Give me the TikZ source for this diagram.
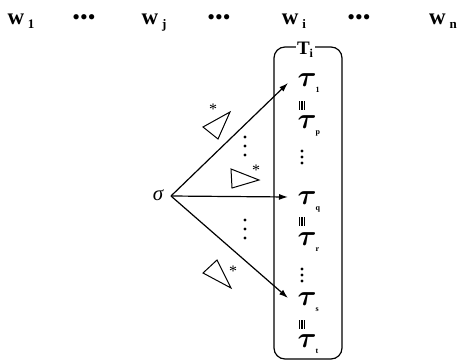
\RequirePackage{fix-cm}
\documentclass[tikz,border=0pt]{standalone}
\usepackage{bm}
\usepackage{fontspec}
\setmainfont{Liberation Serif}
\usetikzlibrary{arrows.meta}

\newcommand{\wlab}[1]{\fontsize{23}{23}\selectfont\bfseries w\,\raisebox{-4pt}{\fontsize{13}{13}\selectfont #1}}
\newcommand{\taulab}[1]{\fontsize{29}{29}\selectfont$\bm{\tau}$\kern-1pt\raisebox{-6pt}{\fontsize{8}{8}\selectfont\bfseries #1}}
\newcommand{\eqvlab}{\rule{1.1pt}{9pt}\kern1.5pt\rule{1.1pt}{9pt}\kern1.5pt\rule{1.1pt}{9pt}}

\tikzset{
  taubox/.style={anchor=west,inner sep=0,text height=12pt,text depth=3pt},
  mark3/.style={inner sep=0}
}

\begin{document}
\begin{tikzpicture}[x=1pt,y=-1pt,line width=1.2pt,>={Latex[length=9pt,width=6pt]}]
  \useasboundingbox (0,0) rectangle (457,361);
  % top row
  \node[anchor=base] (w1) at (21,25){\wlab{1}};
  \node[anchor=base] (d1) at (84,25){\fontsize{22}{22}\selectfont •••};
  \node[anchor=base] (wj) at (154,25){\wlab{j}};
  \node[anchor=base] (d2) at (219,25){\fontsize{22}{22}\selectfont •••};
  \node[anchor=base] (wi) at (294,25){\wlab{i}};
  \node[anchor=base] (d3) at (359,25){\fontsize{22}{22}\selectfont •••};
  \node[anchor=base] (wn) at (443,25){\wlab{n}};
  % the set T_i
  \node[draw,rounded corners=11pt,minimum width=68pt,minimum height=312pt] (Ti) at (308,203){};
  \node[fill=white,inner sep=1.5pt] (Tlab) at (305,50){\fontsize{19}{19}\selectfont\bfseries T\raisebox{-3pt}{\fontsize{12}{12}\selectfont i}};
  \node[taubox] (t1) at (297,82){\taulab{1}};
  \node[mark3] (e1) at (302,105){\eqvlab};
  \node[taubox] (tp) at (297,124){\taulab{p}};
  \node[taubox] (tq) at (297,200){\taulab{q}};
  \node[mark3] (e2) at (302,221){\eqvlab};
  \node[taubox] (tr) at (297,241){\taulab{r}};
  \node[taubox] (ts) at (297,301){\taulab{s}};
  \node[mark3] (e3) at (302,324){\eqvlab};
  \node[taubox] (tt) at (297,343){\taulab{t}};
  \foreach \y in {151,157,163,269,275,281}
    \fill (302,\y) circle (1.7);
  % sigma and its arrows
  \node (sig) at (158,195){\fontsize{21}{21}\selectfont\itshape σ};
  \coordinate (o) at (171,196);
  \coordinate (a1) at (288,83);
  \coordinate (a2) at (288,197);
  \coordinate (a3) at (288,298);
  \draw[->] (o) -- (a1);
  \draw[->] (o) -- (a2);
  \draw[->] (o) -- (a3);
  \foreach \y in {137,146,155,220,229,238}
    \fill (245,\y) circle (1.7);
  % triangles
  \draw[line width=1pt] (203,127) -- (230,112) -- (218,139) -- cycle;
  \draw[line width=1pt] (231,169) -- (259,180) -- (232,188) -- cycle;
  \draw[line width=1pt] (203,273) -- (217,260) -- (231,288) -- cycle;
  \node (s1) at (213,109){\fontsize{16}{16}\selectfont *};
  \node (s2) at (256,170){\fontsize{16}{16}\selectfont *};
  \node (s3) at (233,271){\fontsize{16}{16}\selectfont *};
\end{tikzpicture}
\end{document}
